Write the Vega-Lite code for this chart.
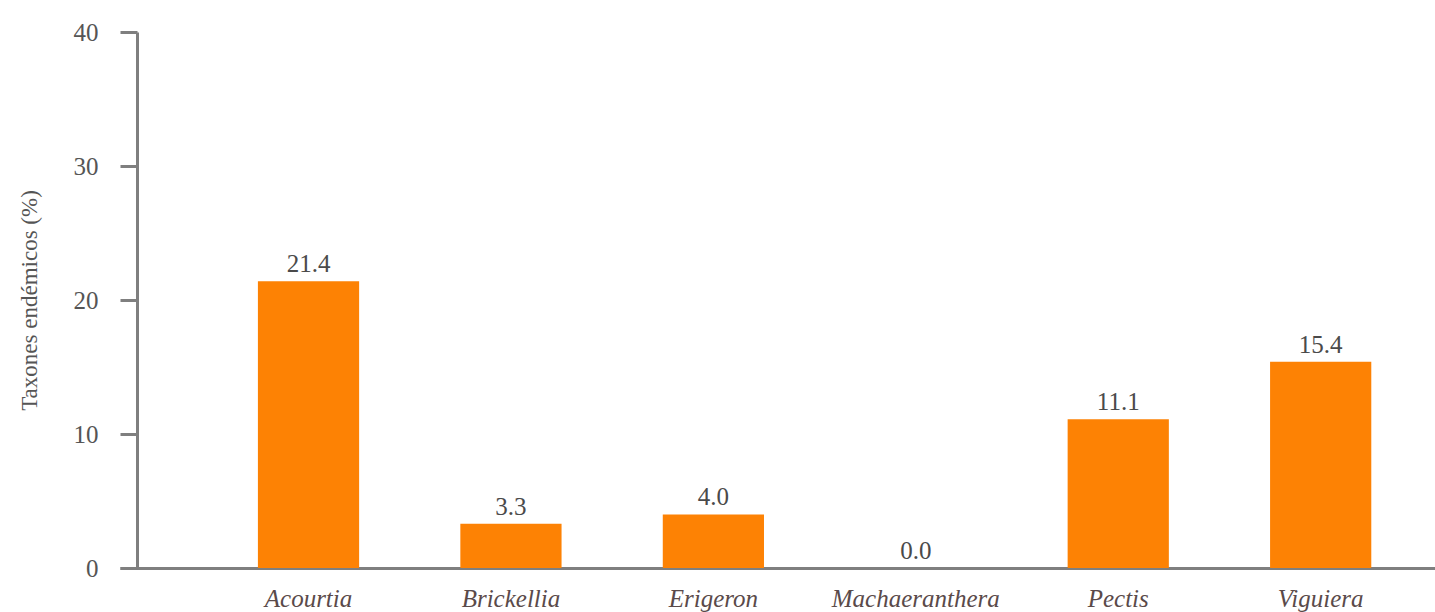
{
  "$schema": "https://vega.github.io/schema/vega-lite/v6.json",
  "width": 1315,
  "height": 536,
  "padding": {"left": 120, "top": 32, "right": 0, "bottom": 44},
  "autosize": {"type": "none"},
  "background": "white",
  "data": {
    "values": [
      {"genero": "Acourtia", "pct": 21.4},
      {"genero": "Brickellia", "pct": 3.3},
      {"genero": "Erigeron", "pct": 4.0},
      {"genero": "Machaeranthera", "pct": 0.0},
      {"genero": "Pectis", "pct": 11.1},
      {"genero": "Viguiera", "pct": 15.4}
    ]
  },
  "config": {
    "view": {"stroke": null},
    "font": "'Liberation Serif', 'DejaVu Serif', serif"
  },
  "encoding": {
    "x": {
      "field": "genero",
      "type": "nominal",
      "sort": null,
      "scale": {"paddingInner": 0.5, "paddingOuter": 0.498, "align": 0.684},
      "axis": {
        "title": null,
        "labelAngle": 0,
        "ticks": false,
        "labelPadding": 18,
        "labelFont": "'Liberation Serif', 'DejaVu Serif', serif",
        "labelFontStyle": "italic",
        "labelFontSize": 25,
        "labelColor": "#5a4a4a",
        "domainColor": "#7f7f7f",
        "domainWidth": 3,
        "grid": false
      }
    },
    "y": {
      "field": "pct",
      "type": "quantitative",
      "scale": {"domain": [0, 40], "nice": false},
      "axis": {
        "title": "Taxones endémicos (%)",
        "titleFont": "'Liberation Serif', 'DejaVu Serif', serif",
        "titleFontSize": 23,
        "titleFontWeight": "normal",
        "titleColor": "#555555",
        "titlePadding": 32,
        "values": [0, 10, 20, 30, 40],
        "offset": -17,
        "tickSize": 17,
        "tickWidth": 3,
        "tickColor": "#7f7f7f",
        "domainColor": "#7f7f7f",
        "domainWidth": 3,
        "labelPadding": 22,
        "labelFont": "'Liberation Serif', 'DejaVu Serif', serif",
        "labelFontSize": 25,
        "labelColor": "#555555",
        "grid": false
      }
    }
  },
  "layer": [
    {"mark": {"type": "bar", "color": "#fd8204"}},
    {
      "mark": {"type": "text", "baseline": "bottom", "dy": -4, "fontSize": 25, "color": "#4a4a4a", "font": "'Liberation Serif', 'DejaVu Serif', serif"},
      "encoding": {"text": {"field": "pct", "type": "quantitative", "format": ".1f"}}
    }
  ]
}
